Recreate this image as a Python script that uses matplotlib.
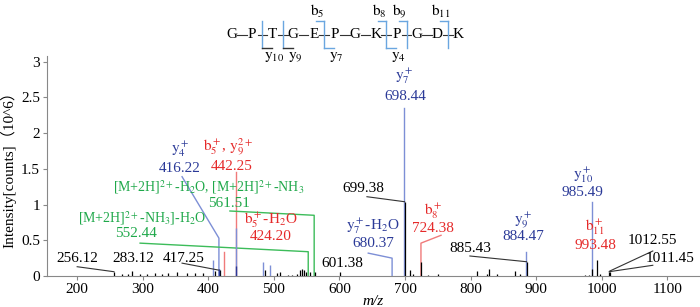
import matplotlib
matplotlib.use('Agg')
import matplotlib.pyplot as plt

plt.rcParams['font.family'] = ['Liberation Serif', 'DejaVu Serif', 'Noto Sans CJK SC']
plt.rcParams['mathtext.fontset'] = 'stix'

# ---- data -------------------------------------------------------------
# plain (black) peaks: m/z and intensity (10^6 counts)
peak_mz = [256.12, 268, 277, 283.12, 296, 307, 319, 329, 339, 352, 367, 380,
           392, 410, 417.25, 487, 505, 510, 522, 528, 535, 540, 543, 546, 549,
           555, 563, 601.38, 699.38, 708, 712, 724.38, 735, 750, 810, 825, 828,
           840, 868, 875, 885.43, 975, 980, 985.49, 993.48, 997, 1011.45, 1012.55]
peak_int = [0.06, 0.03, 0.03, 0.07, 0.03, 0.03, 0.04, 0.03, 0.04, 0.06, 0.04, 0.04,
            0.04, 0.07, 0.08, 0.08, 0.04, 0.05, 0.02, 0.02, 0.03, 0.09, 0.10, 0.08, 0.05,
            0.06, 0.05, 0.05, 1.04, 0.08, 0.03, 0.20, 0.02, 0.03, 0.07, 0.03, 0.10,
            0.03, 0.07, 0.03, 0.20, 0.02, 0.02, 0.10, 0.22, 0.03, 0.05, 0.06]

# small unlabelled matched peaks (blue)
blue_mz = [407, 484, 494]
blue_int = [0.22, 0.20, 0.15]

# labelled ions: name, m/z text, colour key, peak m/z, leader top height
ion_names = [r'$\mathrm{y_4^+}$', r'$\mathrm{b_5^+}$, $\mathrm{y_9^{2+}}$',
             r'$\mathrm{b_5^+}$-H$_2$O', r'$\mathrm{y_7^+}$-H$_2$O', r'$\mathrm{y_7^+}$',
             r'$\mathrm{b_8^+}$', r'$\mathrm{y_9^+}$', r'$\mathrm{y_{10}^+}$',
             r'$\mathrm{b_{11}^+}$',
             '[M+2H]$^{2+}$-NH$_3$]-H$_2$O',
             '[M+2H]$^{2+}$-H$_2$O, [M+2H]$^{2+}$-NH$_3$']
ion_mz_text = ['416.22', '442.25', '424.20', '680.37', '698.44', '724.38',
               '884.47', '985.49', '993.48', '552.44', '561.51']
ion_kind = ['b', 'r', 'r', 'b', 'b', 'r', 'b', 'b', 'r', 'g', 'g']
ion_mz = [416.22, 442.25, 424.20, 680.37, 698.44, 724.38, 884.47, 985.49, 993.48,
          552.44, 561.51]
ion_line_top = [0.53, 1.45, 0.34, 0.25, 2.35, 0.46, 0.34, 1.04, None, 0.34, 0.85]

# labels of plain peaks
plain_text = ['256.12', '283.12', '417.25', '601.38', '699.38', '885.43',
              '1012.55', '1011.45']
plain_mz = [256.12, 283.12, 417.25, 601.38, 699.38, 885.43, 1012.55, 1011.45]
plain_top = [0.06, 0.07, 0.08, 0.05, 1.04, 0.20, 0.07, 0.06]

# peptide sequence and fragment cleavages
sequence = list('GPTGEPGKPGDK')
b_frag = [5, 8, 9, 11]
y_frag = [10, 9, 7, 4]

# ---- layout -----------------------------------------------------------
# (name x, name y, mz-text x, mz-text y, leader start) for labelled ions
ion_layout = [
    (357, 1.78, 357, 1.51, (360, 1.39)),
    (430, 1.80, 435, 1.54, None),
    (495, 0.78, 495, 0.55, None),
    (651, 0.69, 651, 0.46, (644, 0.32)),
    (698, 2.79, 700, 2.51, None),
    (743, 0.90, 743, 0.67, (755, 0.57)),
    (880, 0.78, 880, 0.55, None),
    (971, 1.42, 971, 1.17, None),
    (990, 0.69, 990, 0.43, None),
    (299, 0.81, 290, 0.59, (296, 0.46)),
    (400, 1.25, 432, 1.02, (433, 0.91)),
]
plain_layout = [
    (200, 0.25, (200, 0.13)),
    (285, 0.25, None),
    (362, 0.25, (360, 0.18)),
    (604, 0.18, None),
    (636, 1.23, (642, 1.11)),
    (799, 0.39, (799, 0.28)),
    (1078, 0.50, (1078, 0.35)),
    (1104, 0.25, (1078, 0.15)),
]

text_col = {'b': '#2b3a98', 'r': '#e52a2a', 'g': '#1fa84a'}
line_col = {'b': '#7d8fd6', 'r': '#f07a7a', 'g': '#3cbc5a'}
fs = 11

fig = plt.figure(figsize=(7.0, 3.07), dpi=100)
ax = fig.add_axes([47 / 700, 31 / 307, 653 / 700, 220 / 307])

ax.vlines(peak_mz, 0, peak_int, color='black', lw=0.9, zorder=3)
ax.vlines(blue_mz, 0, blue_int, color=line_col['b'], lw=1.0, zorder=2)
ax.vlines([416.22], 0, [0.10], color='#2b3a98', lw=1.0, zorder=3)
ax.vlines([442.25], 0, [0.67], color=line_col['b'], lw=1.0, zorder=3)
ax.vlines([442.25], 0, [0.14], color='#2b3a98', lw=1.0, zorder=4)

for i in range(len(ion_names)):
    k = ion_kind[i]
    nx, ny, mx, my, start = ion_layout[i]
    ax.text(nx, ny, ion_names[i], color=text_col[k],
            fontsize=10 if k == 'g' else fs, ha='center', va='center')
    ax.text(mx, my, ion_mz_text[i], color=text_col[k], fontsize=fs,
            ha='center', va='center')
    top = ion_line_top[i]
    if top is None:
        continue
    xs, ys = [ion_mz[i], ion_mz[i]], [0, top]
    if start is not None:
        xs = [start[0]] + xs[::-1]
        ys = [start[1]] + ys[::-1]
    ax.plot(xs, ys, color=line_col[k], lw=1.0, zorder=2)

for i in range(len(plain_text)):
    tx, ty, start = plain_layout[i]
    ax.text(tx, ty, plain_text[i], color='black', fontsize=fs,
            ha='center', va='center')
    if start is not None:
        ax.plot([start[0], plain_mz[i]], [start[1], plain_top[i]],
                color='#333333', lw=0.8, zorder=2)

ax.set_xlim(154, 1150)
ax.set_ylim(0, 3.08)
ax.set_xticks(range(200, 1101, 100))
ax.set_yticks([0, 0.5, 1, 1.5, 2, 2.5, 3])
ax.set_yticklabels(['0', '0.5', '1', '1.5', '2', '2.5', '3'])
for side in ['top', 'right']:
    ax.spines[side].set_visible(False)
for side in ['left', 'bottom']:
    ax.spines[side].set_color('#888888')
ax.tick_params(direction='out', length=3, width=0.8, color='#888888',
               labelsize=fs, pad=2)
ax.set_xlabel('m/z', fontstyle='italic', fontsize=fs, labelpad=-1)
ax.set_ylabel('Intensity[counts]（10^6）', fontsize=fs, labelpad=3)

# ---- peptide fragmentation diagram (pixel coordinates) ----------------
seq = fig.add_axes([0, 0, 1, 1])
seq.set_xlim(0, 700)
seq.set_ylim(307, 0)
seq.axis('off')
seq.patch.set_alpha(0)

x0, dx, yb = 231.5, 20.6, 35
for i, aa in enumerate(sequence):
    seq.text(x0 + i * dx, yb, aa, fontsize=fs, ha='center', va='center')
    if i < len(sequence) - 1:
        seq.plot([x0 + i * dx + 5.5, x0 + (i + 1) * dx - 5.5], [yb, yb],
                 color='#333333', lw=0.8)

blue_br = '#6aa6e0'
cuts = sorted(set(b_frag) | set(len(sequence) - n for n in y_frag))
for c in cuts:
    xc = x0 + (c - 0.5) * dx
    seq.plot([xc, xc], [21, 48], color=blue_br, lw=1.0)
for n in b_frag:
    xc = x0 + (n - 0.5) * dx
    seq.plot([xc - 8, xc], [21, 21], color=blue_br, lw=1.0)
    seq.text(xc - 7, 11, r'$\mathrm{b_{%d}}$' % n, fontsize=fs,
             ha='center', va='center')
for n in y_frag:
    c = len(sequence) - n
    xc = x0 + (c - 0.5) * dx
    col = '#333333' if n >= 9 else blue_br
    seq.plot([xc, xc + 10], [48, 48], color=col, lw=1.0)
    seq.text(xc + 12, 57, r'$\mathrm{y_{%d}}$' % n, fontsize=fs,
             ha='center', va='center')

fig.savefig('out.png', dpi=100)
